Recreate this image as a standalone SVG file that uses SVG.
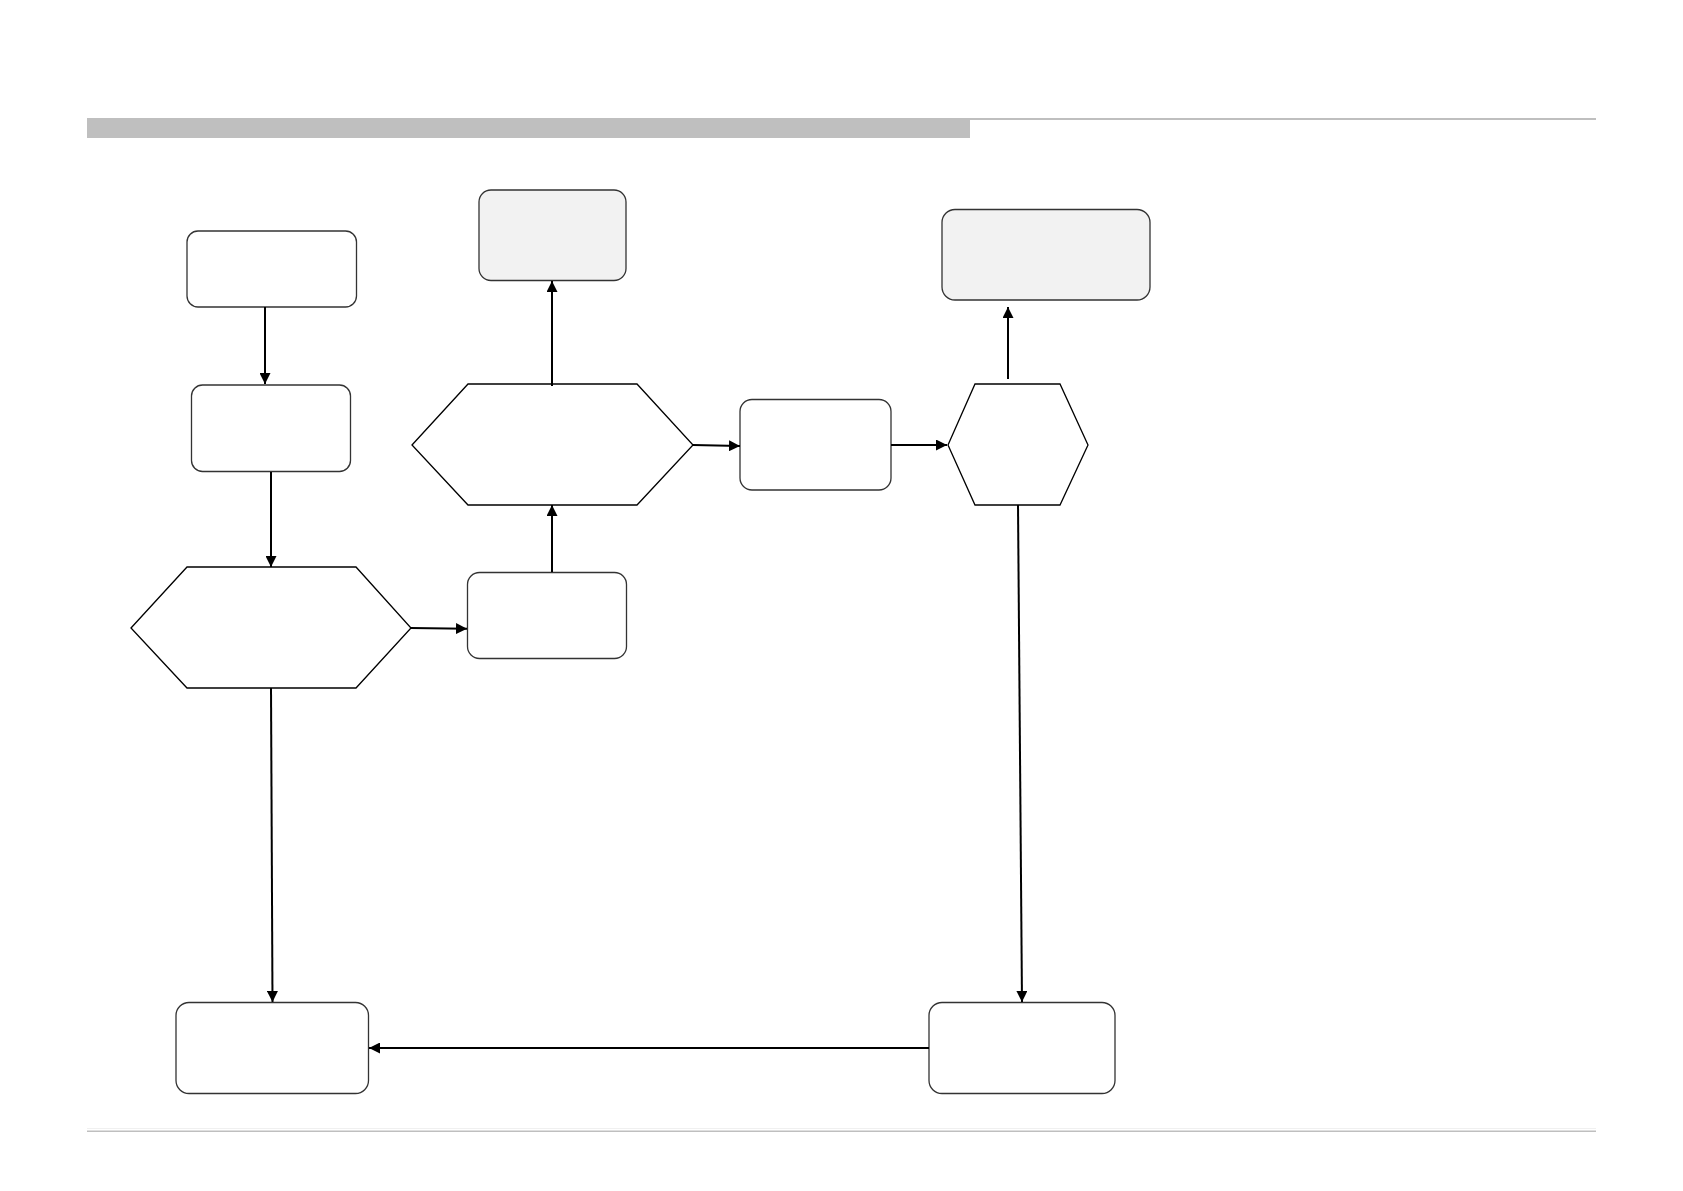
<svg xmlns="http://www.w3.org/2000/svg" width="1683" height="1191" viewBox="0 0 1683 1191">
<style>
.box{fill:#ffffff;stroke:#333333;stroke-width:1.3}
.gray{fill:#f2f2f2;stroke:#333333;stroke-width:1.3}
.hex{fill:#ffffff;stroke:#000000;stroke-width:1.3}
.conn{fill:none;stroke:#000000;stroke-width:2;marker-end:url(#arr)}
</style>
<defs>
<marker id="arr" markerUnits="userSpaceOnUse" viewBox="0 0 11 11" refX="11" refY="5.5" markerWidth="11" markerHeight="11" orient="auto">
<path d="M0,0 L11,5.5 L0,11 z" fill="#000000"/>
</marker>
</defs>
<rect width="1683" height="1191" fill="#ffffff"/>
<g id="header">
<rect x="87" y="118" width="883" height="20" fill="#bfbfbf"/>
<rect x="87" y="118" width="1509" height="2" fill="#bfbfbf"/>
</g>
<g id="footer">
<rect x="87" y="1128" width="1509" height="1" fill="#f0f0f0"/>
<rect x="87" y="1130.5" width="1509" height="1.5" fill="#bfbfbf"/>
</g>
<g id="nodeA"><rect class="box" x="187" y="231" width="169.5" height="76" rx="11"/></g>
<g id="nodeB"><rect class="box" x="191.5" y="385" width="159" height="86.5" rx="11"/></g>
<g id="nodeC"><rect class="gray" x="479" y="190" width="147" height="90.5" rx="12"/></g>
<g id="nodeD"><polygon class="hex" points="412,445 468,384 637,384 693,445 637,505 468,505"/></g>
<g id="nodeE"><rect class="box" x="467.5" y="572.5" width="159" height="86" rx="12"/></g>
<g id="nodeF"><polygon class="hex" points="131,628 187,567 356,567 411,628 356,688 187,688"/></g>
<g id="nodeG"><rect class="box" x="176" y="1002.5" width="192.5" height="91" rx="13"/></g>
<g id="nodeH"><rect class="box" x="929" y="1002.5" width="186" height="91" rx="13"/></g>
<g id="nodeI"><rect class="gray" x="942" y="209.5" width="208" height="90.5" rx="13"/></g>
<g id="nodeJ"><rect class="box" x="740" y="399.5" width="151" height="90.5" rx="12"/></g>
<g id="nodeK"><polygon class="hex" points="948,445 975,384 1060,384 1088,445 1060,505 975,505"/></g>
<g id="connectors">
<line class="conn" x1="265" y1="307" x2="265" y2="384"/>
<line class="conn" x1="271" y1="472" x2="271" y2="567"/>
<line class="conn" x1="411" y1="628" x2="467" y2="628.7"/>
<line class="conn" x1="552" y1="572" x2="552" y2="505"/>
<line class="conn" x1="552" y1="386" x2="552" y2="281"/>
<line class="conn" x1="693" y1="445" x2="740" y2="446"/>
<line class="conn" x1="891" y1="445" x2="947" y2="445"/>
<line class="conn" x1="1008" y1="379" x2="1008" y2="307"/>
<line class="conn" x1="1018" y1="505" x2="1022" y2="1002"/>
<line class="conn" x1="271" y1="688" x2="272.5" y2="1002"/>
<line class="conn" x1="929" y1="1048" x2="369" y2="1048"/>
</g>
</svg>
